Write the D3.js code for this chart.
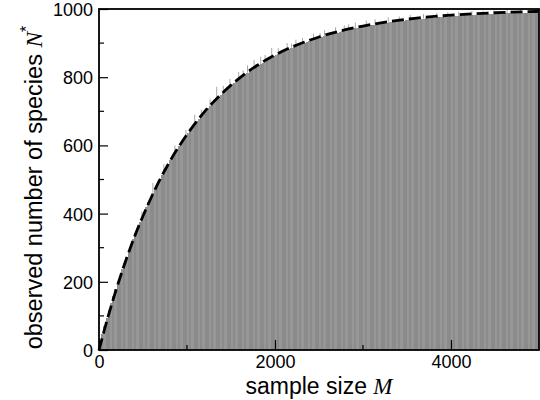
<!DOCTYPE html>
<html>
<head>
<meta charset="utf-8">
<script src="https://cdn.jsdelivr.net/npm/d3@7"></script>
<style>
  html, body { margin: 0; padding: 0; background: #fff; }
  svg { display: block; }
  .tick text { font-family: "Liberation Sans", Arial, sans-serif; font-size: 18px; fill: #000; }
</style>
</head>
<body>
<div id="chart"></div>
<script>
// ── Data ──────────────────────────────────────────────────────────────────
const BAR_STEP = 25;
// observed species per sample size, one bar every 25 (M = 25 … 5000)
const barValues = [
  24, 47, 71, 93, 116, 138, 158, 179, 199, 218,
  238, 256, 274, 292, 310, 326, 343, 358, 374, 390,
  405, 420, 433, 447, 461, 474, 487, 499, 512, 523,
  536, 546, 558, 568, 579, 590, 598, 609, 619, 627,
  637, 646, 655, 662, 672, 678, 688, 694, 702, 709,
  716, 724, 729, 737, 743, 748, 756, 760, 767, 772,
  779, 783, 790, 794, 800, 804, 809, 813, 819, 822,
  827, 831, 836, 839, 843, 847, 851, 855, 857, 861,
  865, 867, 871, 874, 877, 881, 883, 886, 889, 891,
  894, 896, 899, 901, 903, 906, 908, 911, 913, 915,
  917, 919, 921, 923, 925, 926, 928, 930, 931, 933,
  935, 936, 938, 939, 941, 942, 943, 945, 946, 947,
  948, 950, 951, 952, 953, 954, 955, 956, 957, 958,
  959, 960, 961, 962, 963, 964, 964, 965, 966, 967,
  968, 968, 969, 970, 970, 971, 972, 972, 973, 973,
  974, 975, 975, 976, 976, 977, 977, 978, 978, 979,
  979, 980, 980, 980, 981, 981, 982, 982, 982, 983,
  983, 983, 984, 984, 984, 985, 985, 985, 986, 986,
  986, 986, 987, 987, 987, 987, 988, 988, 988, 988,
  989, 989, 989, 989, 989, 990, 990, 990, 990, 990,
];

// light spikes poking above the bars
const spikeM = [500, 625, 750, 875, 1000, 1100, 1175, 1275, 1350, 1425, 1500, 1600, 1650, 1700,
  1775, 1850, 1900, 1975, 2050, 2150, 2200, 2250, 2325, 2450, 2525, 2575, 2700, 2800, 2850,
  2925, 3050, 3150, 3300, 3425, 3550, 3700, 3850, 3975, 4100, 4250, 4375, 4500, 4650, 4800, 4925];
const spikeN = [405, 490, 545, 600, 645, 690, 705, 735, 772, 775, 795, 815, 820, 835,
  850, 860, 865, 886, 885, 900, 898, 910, 915, 928, 930, 938, 946, 952, 955,
  960, 966, 970, 975, 978, 982, 985, 988, 990, 992, 994, 995, 996, 997, 998, 999];

// expected curve (dashed)
const curveM = [0, 100, 200, 300, 400, 500, 600, 800, 1000, 1200, 1400, 1600, 1800,
  2000, 2500, 3000, 3500, 4000, 4500, 5000];
const curveN = [0, 95, 181, 259, 330, 393, 451, 551, 632, 699, 753, 798, 835,
  865, 918, 950, 970, 982, 989, 993];

const xMajor = [0, 2000, 4000];
const xMinor = [1000, 3000];
const yMajor = [0, 200, 400, 600, 800, 1000];
const yMinor = [100, 300, 500, 700, 900];

// ── Layout ────────────────────────────────────────────────────────────────
const W = 540, H = 400;
const L = 99, R = 539, T = 9, B = 350;

const svg = d3.select('#chart').append('svg')
  .attr('width', W).attr('height', H)
  .attr('viewBox', `0 0 ${W} ${H}`);

const x = d3.scaleLinear().domain([0, 5000]).range([L, R]);
const y = d3.scaleLinear().domain([0, 1000]).range([B, T]);

// ── Bars ──────────────────────────────────────────────────────────────────
const bars = barValues.map((v, i) => ({ m: (i + 1) * BAR_STEP, v }));

svg.append('g')
  .attr('shape-rendering', 'crispEdges')
  .selectAll('rect')
  .data(bars)
  .join('rect')
  .attr('x', d => x(d.m - BAR_STEP))
  .attr('width', d => x(d.m) - x(d.m - BAR_STEP) + 0.3)
  .attr('y', d => y(d.v))
  .attr('height', d => y(0) - y(d.v))
  .attr('fill', (d, i) => (i % 5 === 0 || i % 5 === 2 ? '#979797' : '#8b8b8b'));

// spikes
const spikes = spikeM.map((m, i) => ({ m, n: spikeN[i], base: barValues[Math.round(m / BAR_STEP) - 1] }));
svg.append('g')
  .selectAll('line')
  .data(spikes)
  .join('line')
  .attr('x1', d => x(d.m - BAR_STEP / 2))
  .attr('x2', d => x(d.m - BAR_STEP / 2))
  .attr('y1', d => y(d.base))
  .attr('y2', d => y(d.n))
  .attr('stroke', '#a8a8a8')
  .attr('stroke-width', 1);

// ── Dashed expectation curve ──────────────────────────────────────────────
const line = d3.line()
  .x((d, i) => x(curveM[i]))
  .y(d => y(d))
  .curve(d3.curveMonotoneX);

svg.append('path')
  .datum(curveN)
  .attr('fill', 'none')
  .attr('stroke', '#000')
  .attr('stroke-width', 2.8)
  .attr('stroke-dasharray', '12,5')
  .attr('d', line);

// ── Axes (ticks inward) ───────────────────────────────────────────────────
const xAxis = svg.append('g').attr('transform', `translate(0,${B})`)
  .call(d3.axisBottom(x).tickValues(xMajor).tickSize(-10).tickPadding(5).tickFormat(d3.format('d')));
xAxis.append('g').selectAll('line').data(xMinor).join('line')
  .attr('x1', d => x(d)).attr('x2', d => x(d)).attr('y1', 0).attr('y2', -5)
  .attr('stroke', '#000').attr('stroke-width', 1.2);

const yAxis = svg.append('g').attr('transform', `translate(${L},0)`)
  .call(d3.axisLeft(y).tickValues(yMajor).tickSize(-9).tickPadding(6).tickFormat(d3.format('d')));
yAxis.append('g').selectAll('line').data(yMinor).join('line')
  .attr('x1', 0).attr('x2', 5).attr('y1', d => y(d)).attr('y2', d => y(d))
  .attr('stroke', '#000').attr('stroke-width', 1.2);

svg.selectAll('.domain').remove();
svg.selectAll('.tick line').attr('stroke', '#000').attr('stroke-width', 1.2);
xAxis.selectAll('.tick text').attr('dy', '0.72em');
yAxis.selectAll('.tick text').attr('dy', '0.36em');

// frame
svg.append('rect')
  .attr('x', L).attr('y', T).attr('width', R - L).attr('height', B - T)
  .attr('fill', 'none').attr('stroke', '#000').attr('stroke-width', 1.8);

// ── Labels ────────────────────────────────────────────────────────────────
const xl = svg.append('text')
  .attr('x', (L + R) / 2).attr('y', 394)
  .attr('text-anchor', 'middle')
  .style('font-family', '"Liberation Sans", Arial, sans-serif')
  .style('font-size', '23px');
xl.append('tspan').text('sample size ');
xl.append('tspan').text('M')
  .style('font-family', '"Liberation Serif", "Times New Roman", serif')
  .style('font-style', 'italic');

const yl = svg.append('text')
  .attr('transform', `translate(42,${(T + B) / 2 + 8}) rotate(-90)`)
  .attr('text-anchor', 'middle')
  .style('font-family', '"Liberation Sans", Arial, sans-serif')
  .style('font-size', '23.5px');
yl.append('tspan').text('observed number of species ');
yl.append('tspan').text('N')
  .style('font-family', '"Liberation Serif", "Times New Roman", serif')
  .style('font-style', 'italic');
yl.append('tspan').text('*').attr('dy', -10).style('font-size', '16px');
</script>
</body>
</html>
